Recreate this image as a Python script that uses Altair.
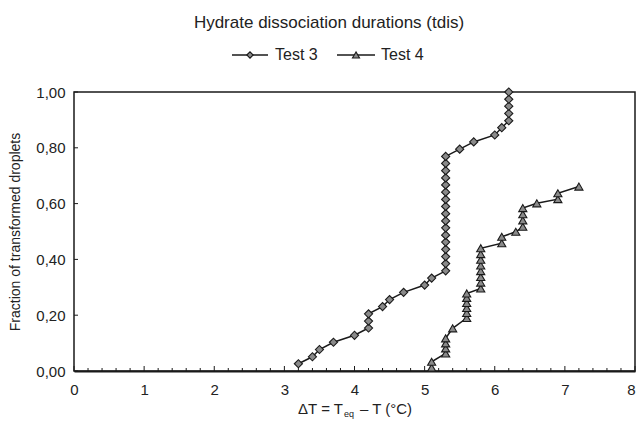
import altair as alt
import pandas as pd

# ---- data ----
t3_dT = [3.2, 3.4, 3.5, 3.7, 4.0, 4.2, 4.2, 4.2, 4.4, 4.5, 4.7, 5.0, 5.1,
         5.3, 5.3, 5.3, 5.3, 5.3, 5.3, 5.3, 5.3, 5.3, 5.3, 5.3, 5.3, 5.3, 5.3, 5.3, 5.3, 5.3,
         5.5, 5.7, 6.0, 6.1,
         6.2, 6.2, 6.2, 6.2, 6.2]
t3_frac = [0.026, 0.051, 0.077, 0.103, 0.128, 0.154, 0.179, 0.205, 0.231, 0.256, 0.282, 0.308, 0.333,
           0.359, 0.385, 0.410, 0.436, 0.462, 0.487, 0.513, 0.538, 0.564, 0.590, 0.615, 0.641, 0.667,
           0.692, 0.718, 0.744, 0.769,
           0.795, 0.821, 0.846, 0.872,
           0.897, 0.923, 0.949, 0.974, 1.000]

t4_dT = [5.1, 5.1, 5.3, 5.3, 5.3, 5.3, 5.4,
         5.6, 5.6, 5.6, 5.6, 5.6, 5.6,
         5.8, 5.8, 5.8, 5.8, 5.8, 5.8, 5.8, 5.8,
         6.1, 6.1, 6.3, 6.4, 6.4, 6.4, 6.4, 6.6, 6.9, 6.9, 7.2]
t4_frac = [0.012, 0.033, 0.063, 0.081, 0.099, 0.117, 0.153,
           0.190, 0.208, 0.226, 0.244, 0.262, 0.278,
           0.296, 0.317, 0.337, 0.358, 0.378, 0.399, 0.419, 0.440,
           0.458, 0.481, 0.499, 0.517, 0.540, 0.562, 0.584, 0.601, 0.616, 0.637, 0.661]

x_ticks = [0, 1, 2, 3, 4, 5, 6, 7, 8]
y_ticks = [0.0, 0.2, 0.4, 0.6, 0.8, 1.0]
x_minor = [round(i * 0.2, 1) for i in range(41) if i % 5 != 0]

series_names = ["Test 3", "Test 4"]
title_text = "Hydrate dissociation durations (tdis)"
y_title = "Fraction of transformed droplets"

df = pd.DataFrame({
    "dT": t3_dT + t4_dT,
    "frac": t3_frac + t4_frac,
    "series": [series_names[0]] * len(t3_dT) + [series_names[1]] * len(t4_dT),
})
df["idx"] = range(len(df))

W, H = 561, 279
FONT = "Liberation Sans"
INK = "#1a1a1a"
GRAY = "#8a8a8a"
TXT = "#222222"

xs = alt.Scale(domain=[0, 8], nice=False, zero=False)
ys = alt.Scale(domain=[0, 1], nice=False, zero=False)
shape_scale = alt.Scale(domain=series_names, range=["diamond", "triangle-up"])

x_axis = alt.Axis(values=x_ticks, ticks=False, grid=False, domain=True, domainColor=INK,
                  domainWidth=2, labelFont=FONT, labelFontSize=15, labelColor=TXT,
                  labelPadding=11, title=None, labelFlush=False,
                  labelAlign=alt.condition("datum.value == 8", alt.value("right"), alt.value("center")))
y_axis = alt.Axis(values=y_ticks, ticks=False, grid=False, domain=False,
                  labelExpr="replace(format(datum.value, '.2f'), '.', ',')",
                  labelFont=FONT, labelFontSize=15, labelColor=TXT, labelPadding=9,
                  title=y_title, titleFont=FONT, titleFontSize=14, titleFontWeight="normal",
                  titleColor=TXT, titlePadding=13)

X = lambda f: alt.X(f, scale=xs, axis=x_axis)
Y = lambda f: alt.Y(f, scale=ys, axis=y_axis)

base = alt.Chart(df)
lines = base.mark_line(color=INK, strokeWidth=1.5).encode(
    x=X("dT:Q"), y=Y("frac:Q"), detail="series:N", order="idx:Q",
)
points = base.mark_point(filled=True, fill=GRAY, stroke=INK, strokeWidth=1.1, opacity=1, size=66).encode(
    x=X("dT:Q"), y=Y("frac:Q"),
    shape=alt.Shape("series:N", scale=shape_scale, legend=None),
)

# inward ticks
xmaj = alt.Chart(pd.DataFrame({"dT": x_ticks})).mark_rule(color=INK, strokeWidth=1).encode(
    x=X("dT:Q"), y=alt.value(H), y2=alt.value(H - 5))
xmin = alt.Chart(pd.DataFrame({"dT": x_minor})).mark_rule(color=INK, strokeWidth=1).encode(
    x=X("dT:Q"), y=alt.value(H), y2=alt.value(H - 3))
ymaj = alt.Chart(pd.DataFrame({"frac": y_ticks})).mark_rule(color=INK, strokeWidth=1).encode(
    y=Y("frac:Q"), x=alt.value(0), x2=alt.value(4))

# title
title = alt.Chart(pd.DataFrame({"t": [title_text]})).mark_text(
    font=FONT, fontSize=17, color=TXT, align="center", baseline="middle").encode(
    text="t:N", x=alt.value(255), y=alt.value(-69))

# custom legend (line + marker + label)
leg = pd.DataFrame({"name": series_names})
leg_y = -37
leg_line1 = alt.Chart(leg.iloc[[0]]).mark_rule(color=INK, strokeWidth=1.5).encode(
    x=alt.value(158), x2=alt.value(194), y=alt.value(leg_y))
leg_line2 = alt.Chart(leg.iloc[[1]]).mark_rule(color=INK, strokeWidth=1.5).encode(
    x=alt.value(263), x2=alt.value(301), y=alt.value(leg_y))
leg_pt1 = alt.Chart(leg.iloc[[0]]).mark_point(shape="diamond", filled=True, fill=GRAY, stroke=INK,
                                               strokeWidth=1.1, opacity=1, size=40).encode(
    x=alt.value(176), y=alt.value(leg_y))
leg_pt2 = alt.Chart(leg.iloc[[1]]).mark_point(shape="triangle-up", filled=True, fill=GRAY, stroke=INK,
                                               strokeWidth=1.1, opacity=1, size=50).encode(
    x=alt.value(282), y=alt.value(leg_y))
leg_t1 = alt.Chart(leg.iloc[[0]]).mark_text(font=FONT, fontSize=16, color=TXT, align="left",
                                             baseline="middle").encode(
    text="name:N", x=alt.value(201), y=alt.value(leg_y))
leg_t2 = alt.Chart(leg.iloc[[1]]).mark_text(font=FONT, fontSize=16, color=TXT, align="left",
                                             baseline="middle").encode(
    text="name:N", x=alt.value(307), y=alt.value(leg_y))

# x axis title with subscript
xt = pd.DataFrame({"a": ["ΔT = T"], "b": ["eq"], "c": ["– T (°C)"]})
xt1 = alt.Chart(xt).mark_text(font=FONT, fontSize=15, color=TXT, align="right",
                              baseline="alphabetic").encode(text="a:N", x=alt.value(269), y=alt.value(322))
xt2 = alt.Chart(xt).mark_text(font=FONT, fontSize=9, color=TXT, align="left",
                              baseline="alphabetic").encode(text="b:N", x=alt.value(270), y=alt.value(325))
xt3 = alt.Chart(xt).mark_text(font=FONT, fontSize=15, color=TXT, align="left",
                              baseline="alphabetic").encode(text="c:N", x=alt.value(286), y=alt.value(322))

chart = alt.layer(
    lines, points, xmaj, xmin, ymaj, title,
    leg_line1, leg_line2, leg_pt1, leg_pt2, leg_t1, leg_t2, xt1, xt2, xt3,
).properties(
    width=W, height=H,
    background="white",
    autosize=alt.AutoSizeParams(type="none"),
    padding={"left": 66, "top": 84, "right": 1, "bottom": 49},
).configure_view(stroke=INK, strokeWidth=1.5)

chart.save("out.html", embed_options={"renderer": "svg", "actions": False})
